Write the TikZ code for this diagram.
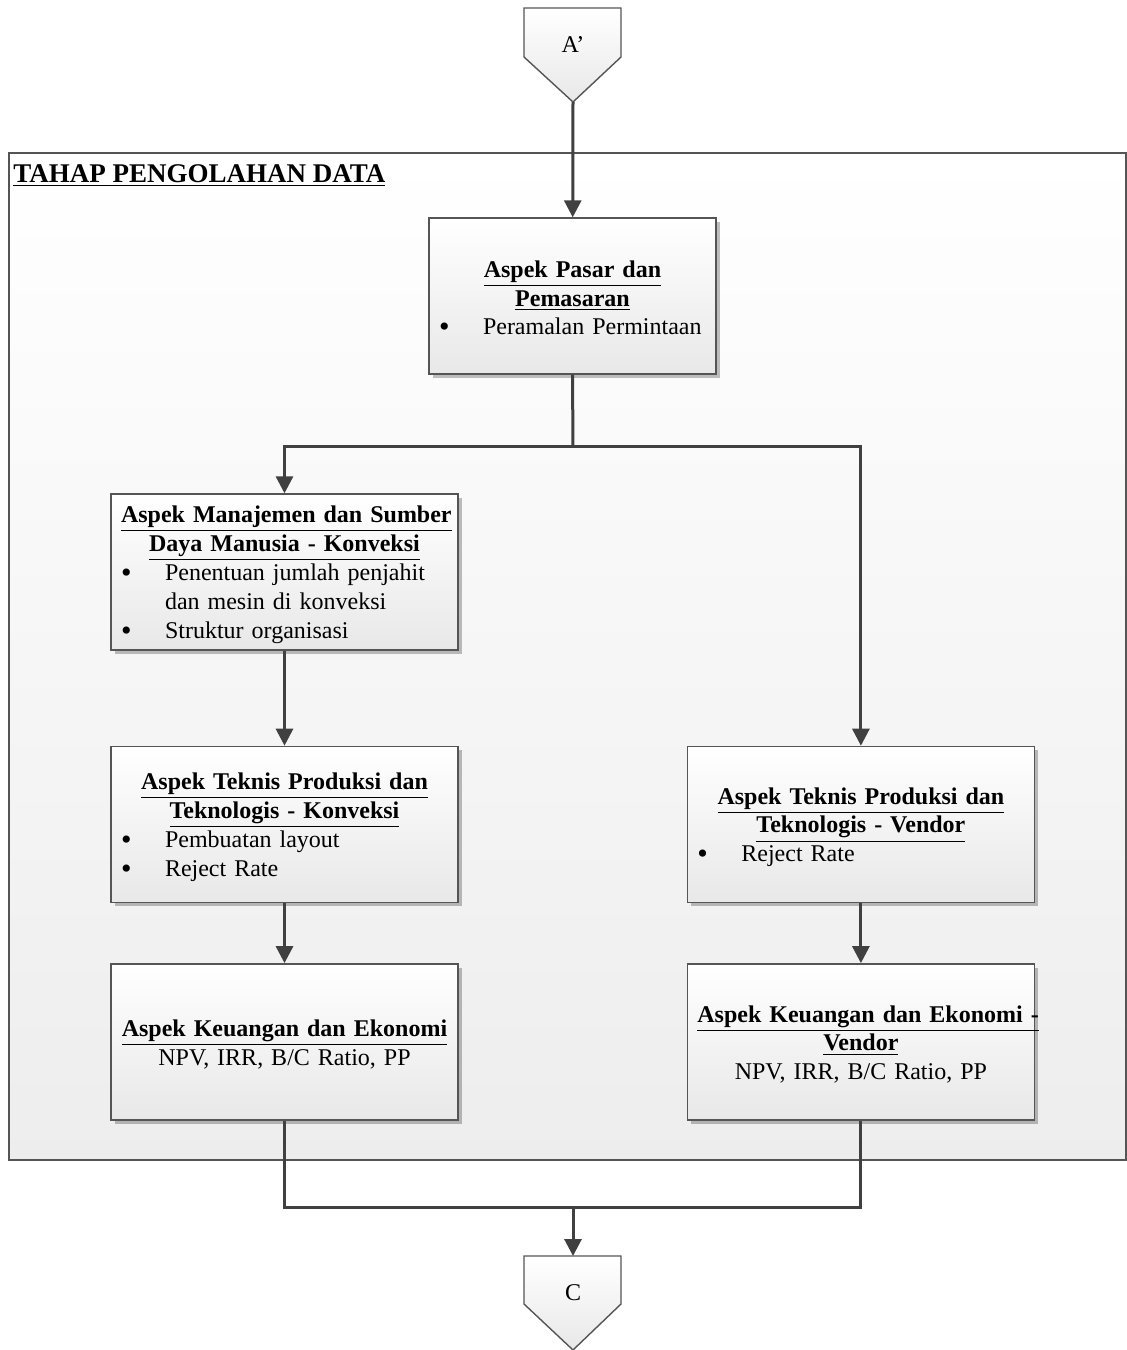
\documentclass[tikz,border=0pt]{standalone}
\usepackage{fontspec}
\setmainfont{Liberation Serif}
\definecolor{LineGray}{RGB}{64, 64, 64}
\definecolor{EdgeGray}{RGB}{85, 85, 85}
\usetikzlibrary{arrows.meta, positioning, shadows}
\newcommand{\bitem}[1]{\makebox[\hsize][l]{\makebox[22pt][l]{\raisebox{-1pt}{\fontsize{15}{14.4}\selectfont\textbullet}}#1}}
\newcommand{\bcont}[1]{\makebox[\hsize][l]{\hspace{22pt}#1}}

\begin{document}
\begin{tikzpicture}[x=0.5pt, y=-0.5pt, >={Triangle[width=8.5pt, length=8.5pt]},
    every node/.style={font=\fontsize{12}{14.4}\selectfont},
    box/.style={draw=EdgeGray, line width=0.7pt, top color=white, bottom color=black!9,
        drop shadow={shadow xshift=2pt, shadow yshift=-2pt, opacity=0.25, fill=black},
        minimum height=78pt, inner xsep=5pt, inner ysep=1pt, align=center,
        execute at begin node={\lineskiplimit=-20pt\relax\rule{0pt}{11pt}}},
    smallbox/.style={box, minimum width=143.5pt, text width=133.5pt},
    widebox/.style={box, minimum width=173.5pt, text width=163.5pt},
    offpage/.style={draw=EdgeGray, line width=0.7pt, top color=white, bottom color=black!9},
    conn/.style={draw=LineGray, line width=1.5pt},
    arr/.style={conn, ->}]
    \useasboundingbox (0,0) rectangle (1127,1350);
    % stage frame
    \draw[draw=EdgeGray, line width=0.7pt, top color=white, bottom color=black!7] (9,153) rectangle (1126,1160);
    \node[anchor=base west, inner sep=0pt, font=\fontsize{13.5}{16}\selectfont\bfseries] (stage) at (13,182) {\underline{TAHAP PENGOLAHAN DATA}};
    % off-page connectors
    \draw[offpage] (524,8) -- (621,8) -- (621,57) -- (573,102) -- (524,57) -- cycle;
    \node (aprime) at (573,45) {A’};
    \coordinate (atip) at (573,102);
    \draw[offpage] (524,1256) -- (621,1256) -- (621,1304) -- (573,1350) -- (524,1304) -- cycle;
    \node (cnode) at (573,1293) {C};
    \coordinate (ctop) at (573,1256);
    % boxes
    \node[smallbox] (pasar) at (572.5,296) {\textbf{\underline{Aspek Pasar dan}}\\ \textbf{\underline{Pemasaran}}\\
        \bitem{Peramalan Permintaan}};
    \node[widebox] (sdm) at (284.5,572) {\textbf{\underline{Aspek Manajemen dan Sumber}}\\ \textbf{\underline{Daya Manusia - Konveksi}}\\
        \bitem{Penentuan jumlah penjahit}\\
        \bcont{dan mesin di konveksi}\\
        \bitem{Struktur organisasi}};
    \node[widebox, below=47.5pt of sdm] (teknis) {\textbf{\underline{Aspek Teknis Produksi dan}}\\ \textbf{\underline{Teknologis - Konveksi}}\\
        \bitem{Pembuatan layout}\\
        \bitem{Reject Rate}};
    \node[widebox, below=30pt of teknis] (uang) {\textbf{\underline{Aspek Keuangan dan Ekonomi}}\\ NPV, IRR, B/C Ratio, PP};
    \node[widebox, right=114pt of teknis] (teknisv) {\textbf{\underline{Aspek Teknis Produksi dan}}\\ \textbf{\underline{Teknologis - Vendor}}\\
        \bitem{Reject Rate}};
    \node[widebox, right=114pt of uang] (uangv) {\textbf{\underline{Aspek Keuangan dan Ekonomi -}}\\ \textbf{\underline{Vendor}}\\ NPV, IRR, B/C Ratio, PP};
    % connectors
    \coordinate (split) at (573,446);
    \coordinate (join) at (573,1207);
    \draw[arr] (atip) -- (pasar);
    \draw[conn] (pasar.south) -- (split);
    \draw[arr] (split) -| (sdm.north);
    \draw[arr] (split) -| (teknisv.north);
    \draw[arr] (sdm) -- (teknis);
    \draw[arr] (teknis) -- (uang);
    \draw[arr] (teknisv) -- (uangv);
    \draw[conn] (uang.south) |- (join) -| (uangv.south);
    \draw[arr] (join) -- (ctop);
\end{tikzpicture}
\end{document}
